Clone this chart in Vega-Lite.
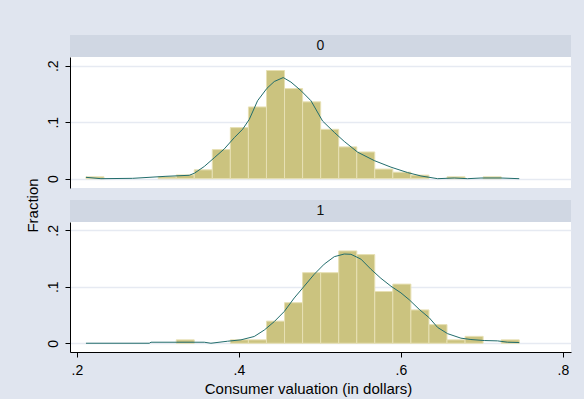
{
  "$schema": "https://vega.github.io/schema/vega-lite/v6.json",
  "background": "#e0e5ef",
  "padding": {"left": 24, "top": 35, "right": 14, "bottom": 3},
  "bounds": "flush",
  "spacing": 0,
  "config": {
    "font": "Liberation Sans",
    "view": {"stroke": null},
    "axis": {
      "labelFont": "Liberation Sans",
      "titleFont": "Liberation Sans",
      "labelColor": "#000",
      "titleColor": "#000",
      "domainColor": "#000",
      "tickColor": "#000",
      "labelFontSize": 14,
      "titleFontSize": 15,
      "titleFontWeight": "normal",
      "tickSize": 5,
      "domainWidth": 1,
      "tickWidth": 1
    }
  },
  "datasets": {
    "bars": [
      {"group": "0", "x0": 0.2111, "x1": 0.2334, "frac": 0.0033},
      {"group": "0", "x0": 0.3003, "x1": 0.3226, "frac": 0.0033},
      {"group": "0", "x0": 0.3226, "x1": 0.3448, "frac": 0.0066},
      {"group": "0", "x0": 0.3448, "x1": 0.3671, "frac": 0.0156},
      {"group": "0", "x0": 0.3671, "x1": 0.3894, "frac": 0.0515},
      {"group": "0", "x0": 0.3894, "x1": 0.4117, "frac": 0.0904},
      {"group": "0", "x0": 0.4117, "x1": 0.4340, "frac": 0.1270},
      {"group": "0", "x0": 0.4340, "x1": 0.4563, "frac": 0.1915},
      {"group": "0", "x0": 0.4563, "x1": 0.4786, "frac": 0.1595},
      {"group": "0", "x0": 0.4786, "x1": 0.5009, "frac": 0.1360},
      {"group": "0", "x0": 0.5009, "x1": 0.5232, "frac": 0.0874},
      {"group": "0", "x0": 0.5232, "x1": 0.5455, "frac": 0.0563},
      {"group": "0", "x0": 0.5455, "x1": 0.5677, "frac": 0.0473},
      {"group": "0", "x0": 0.5677, "x1": 0.5900, "frac": 0.0170},
      {"group": "0", "x0": 0.5900, "x1": 0.6123, "frac": 0.0115},
      {"group": "0", "x0": 0.6123, "x1": 0.6346, "frac": 0.0063},
      {"group": "0", "x0": 0.6569, "x1": 0.6792, "frac": 0.0033},
      {"group": "0", "x0": 0.7015, "x1": 0.7238, "frac": 0.0033},
      {"group": "1", "x0": 0.3226, "x1": 0.3448, "frac": 0.006},
      {"group": "1", "x0": 0.3894, "x1": 0.4117, "frac": 0.006},
      {"group": "1", "x0": 0.4117, "x1": 0.4340, "frac": 0.006},
      {"group": "1", "x0": 0.4340, "x1": 0.4563, "frac": 0.0392},
      {"group": "1", "x0": 0.4563, "x1": 0.4786, "frac": 0.0718},
      {"group": "1", "x0": 0.4786, "x1": 0.5009, "frac": 0.1250},
      {"group": "1", "x0": 0.5009, "x1": 0.5232, "frac": 0.1250},
      {"group": "1", "x0": 0.5232, "x1": 0.5455, "frac": 0.1635},
      {"group": "1", "x0": 0.5455, "x1": 0.5677, "frac": 0.1570},
      {"group": "1", "x0": 0.5677, "x1": 0.5900, "frac": 0.0916},
      {"group": "1", "x0": 0.5900, "x1": 0.6123, "frac": 0.1047},
      {"group": "1", "x0": 0.6123, "x1": 0.6346, "frac": 0.0590},
      {"group": "1", "x0": 0.6346, "x1": 0.6569, "frac": 0.0330},
      {"group": "1", "x0": 0.6569, "x1": 0.6792, "frac": 0.006},
      {"group": "1", "x0": 0.6792, "x1": 0.7015, "frac": 0.0122},
      {"group": "1", "x0": 0.7238, "x1": 0.7461, "frac": 0.006}
    ],
    "dens": [
      {"group": "0", "x": 0.2111, "d": 0.0024},
      {"group": "0", "x": 0.2296, "d": 0.0},
      {"group": "0", "x": 0.2687, "d": 0.0006},
      {"group": "0", "x": 0.3099, "d": 0.0042},
      {"group": "0", "x": 0.3387, "d": 0.006},
      {"group": "0", "x": 0.3449, "d": 0.0096},
      {"group": "0", "x": 0.3572, "d": 0.0216},
      {"group": "0", "x": 0.3695, "d": 0.0370},
      {"group": "0", "x": 0.3819, "d": 0.0527},
      {"group": "0", "x": 0.3942, "d": 0.0725},
      {"group": "0", "x": 0.4045, "d": 0.0874},
      {"group": "0", "x": 0.4128, "d": 0.1050},
      {"group": "0", "x": 0.4230, "d": 0.1380},
      {"group": "0", "x": 0.4346, "d": 0.1600},
      {"group": "0", "x": 0.4436, "d": 0.1720},
      {"group": "0", "x": 0.4547, "d": 0.1790},
      {"group": "0", "x": 0.4642, "d": 0.1710},
      {"group": "0", "x": 0.4765, "d": 0.1560},
      {"group": "0", "x": 0.4889, "d": 0.1380},
      {"group": "0", "x": 0.5033, "d": 0.1020},
      {"group": "0", "x": 0.5177, "d": 0.0820},
      {"group": "0", "x": 0.5300, "d": 0.0660},
      {"group": "0", "x": 0.5465, "d": 0.0470},
      {"group": "0", "x": 0.5671, "d": 0.0320},
      {"group": "0", "x": 0.5877, "d": 0.0204},
      {"group": "0", "x": 0.6082, "d": 0.0108},
      {"group": "0", "x": 0.6247, "d": 0.0048},
      {"group": "0", "x": 0.6453, "d": 0.0},
      {"group": "0", "x": 0.6658, "d": 0.0012},
      {"group": "0", "x": 0.6823, "d": 0.0},
      {"group": "0", "x": 0.6988, "d": 0.0012},
      {"group": "0", "x": 0.7235, "d": 0.0012},
      {"group": "0", "x": 0.7461, "d": 0.0},
      {"group": "1", "x": 0.2111, "d": 0.0},
      {"group": "1", "x": 0.2893, "d": 0.0},
      {"group": "1", "x": 0.2914, "d": 0.0018},
      {"group": "1", "x": 0.3572, "d": 0.0018},
      {"group": "1", "x": 0.3654, "d": 0.0},
      {"group": "1", "x": 0.3860, "d": 0.0036},
      {"group": "1", "x": 0.4025, "d": 0.006},
      {"group": "1", "x": 0.4189, "d": 0.012},
      {"group": "1", "x": 0.4313, "d": 0.0234},
      {"group": "1", "x": 0.4436, "d": 0.0383},
      {"group": "1", "x": 0.4560, "d": 0.0563},
      {"group": "1", "x": 0.4683, "d": 0.0802},
      {"group": "1", "x": 0.4807, "d": 0.1012},
      {"group": "1", "x": 0.4930, "d": 0.1222},
      {"group": "1", "x": 0.5053, "d": 0.1401},
      {"group": "1", "x": 0.5177, "d": 0.1533},
      {"group": "1", "x": 0.5300, "d": 0.1580},
      {"group": "1", "x": 0.5383, "d": 0.1575},
      {"group": "1", "x": 0.5506, "d": 0.1490},
      {"group": "1", "x": 0.5630, "d": 0.1310},
      {"group": "1", "x": 0.5753, "d": 0.1150},
      {"group": "1", "x": 0.5877, "d": 0.1010},
      {"group": "1", "x": 0.6000, "d": 0.0892},
      {"group": "1", "x": 0.6103, "d": 0.0770},
      {"group": "1", "x": 0.6226, "d": 0.0600},
      {"group": "1", "x": 0.6350, "d": 0.0450},
      {"group": "1", "x": 0.6453, "d": 0.0280},
      {"group": "1", "x": 0.6576, "d": 0.0170},
      {"group": "1", "x": 0.6741, "d": 0.0090},
      {"group": "1", "x": 0.6864, "d": 0.0066},
      {"group": "1", "x": 0.7029, "d": 0.0048},
      {"group": "1", "x": 0.7193, "d": 0.0042},
      {"group": "1", "x": 0.7317, "d": 0.0018},
      {"group": "1", "x": 0.7461, "d": 0.0012}
    ]
  },
  "vconcat": [
    {
      "width": 501, "height": 22,
      "view": {"fill": "#d0d7e3", "stroke": null},
      "data": {"values": [{"group": "0"}]},
      "mark": {"type": "text", "fontSize": 14, "color": "#111", "font": "Liberation Sans"},
      "encoding": {
        "x": {"field": "group", "type": "nominal", "axis": null},
        "y": {"field": "group", "type": "nominal", "axis": null},
        "text": {"field": "group"}
      }
    },
    {
      "width": 501, "height": 131,
      "view": {"fill": "white", "stroke": null},
      "layer": [
        {
          "data": {"name": "bars"},
          "transform": [{"filter": "datum.group == '0'"}],
          "mark": {"type": "rect", "fill": "#cbc37f", "stroke": "#e7e0b4", "strokeWidth": 1},
          "encoding": {
            "x": {"field": "x0", "type": "quantitative", "scale": {"domain": [0.1914, 0.81], "nice": false, "zero": false}, "axis": null},
            "x2": {"field": "x1"},
            "y": {"field": "frac", "type": "quantitative", "scale": {"domain": [-0.0165, 0.2154], "nice": false, "zero": false},
              "axis": {"values": [0, 0.1, 0.2], "title": null, "grid": true, "gridColor": "#e6eaf2", "gridWidth": 1.5, "labelAngle": 270, "labelAlign": "center", "labelBaseline": "bottom", "labelPadding": 5,
                "labelExpr": "datum.value == 0 ? '0' : replace(format(datum.value, '.1f'), '0.', '.')"}},
            "y2": {"datum": 0}
          }
        },
        {
          "data": {"name": "dens"},
          "transform": [{"filter": "datum.group == '0'"}],
          "mark": {"type": "line", "color": "#226d6c", "strokeWidth": 1},
          "encoding": {
            "x": {"field": "x", "type": "quantitative"},
            "y": {"field": "d", "type": "quantitative"}
          }
        }
      ]
    },
    {
      "width": 501, "height": 12,
      "data": {"values": []},
      "mark": {"type": "text"},
      "encoding": {}
    },
    {
      "width": 501, "height": 22,
      "view": {"fill": "#d0d7e3", "stroke": null},
      "data": {"values": [{"group": "1"}]},
      "mark": {"type": "text", "fontSize": 14, "color": "#111", "font": "Liberation Sans"},
      "encoding": {
        "x": {"field": "group", "type": "nominal", "axis": null},
        "y": {"field": "group", "type": "nominal", "axis": null},
        "text": {"field": "group"}
      }
    },
    {
      "width": 501, "height": 130,
      "view": {"fill": "white", "stroke": null},
      "layer": [
        {
          "data": {"name": "bars"},
          "transform": [{"filter": "datum.group == '1'"}],
          "mark": {"type": "rect", "fill": "#cbc37f", "stroke": "#e7e0b4", "strokeWidth": 1},
          "encoding": {
            "x": {"field": "x0", "type": "quantitative", "scale": {"domain": [0.1914, 0.81], "nice": false, "zero": false},
              "axis": {"values": [0.2, 0.4, 0.6, 0.8], "title": "Consumer valuation (in dollars)", "grid": false, "labelPadding": 6, "titlePadding": 4, "titleX": 238,
                "labelExpr": "replace(format(datum.value, '.1f'), '0.', '.')"}},
            "x2": {"field": "x1"},
            "y": {"field": "frac", "type": "quantitative", "scale": {"domain": [-0.0155, 0.2147], "nice": false, "zero": false},
              "axis": {"values": [0, 0.1, 0.2], "title": "Fraction", "titleY": -17, "titlePadding": 6, "grid": true, "gridColor": "#e6eaf2", "gridWidth": 1.5, "labelAngle": 270, "labelAlign": "center", "labelBaseline": "bottom", "labelPadding": 5,
                "labelExpr": "datum.value == 0 ? '0' : replace(format(datum.value, '.1f'), '0.', '.')"}},
            "y2": {"datum": 0}
          }
        },
        {
          "data": {"name": "dens"},
          "transform": [{"filter": "datum.group == '1'"}],
          "mark": {"type": "line", "color": "#226d6c", "strokeWidth": 1},
          "encoding": {
            "x": {"field": "x", "type": "quantitative"},
            "y": {"field": "d", "type": "quantitative"}
          }
        }
      ]
    }
  ]
}
